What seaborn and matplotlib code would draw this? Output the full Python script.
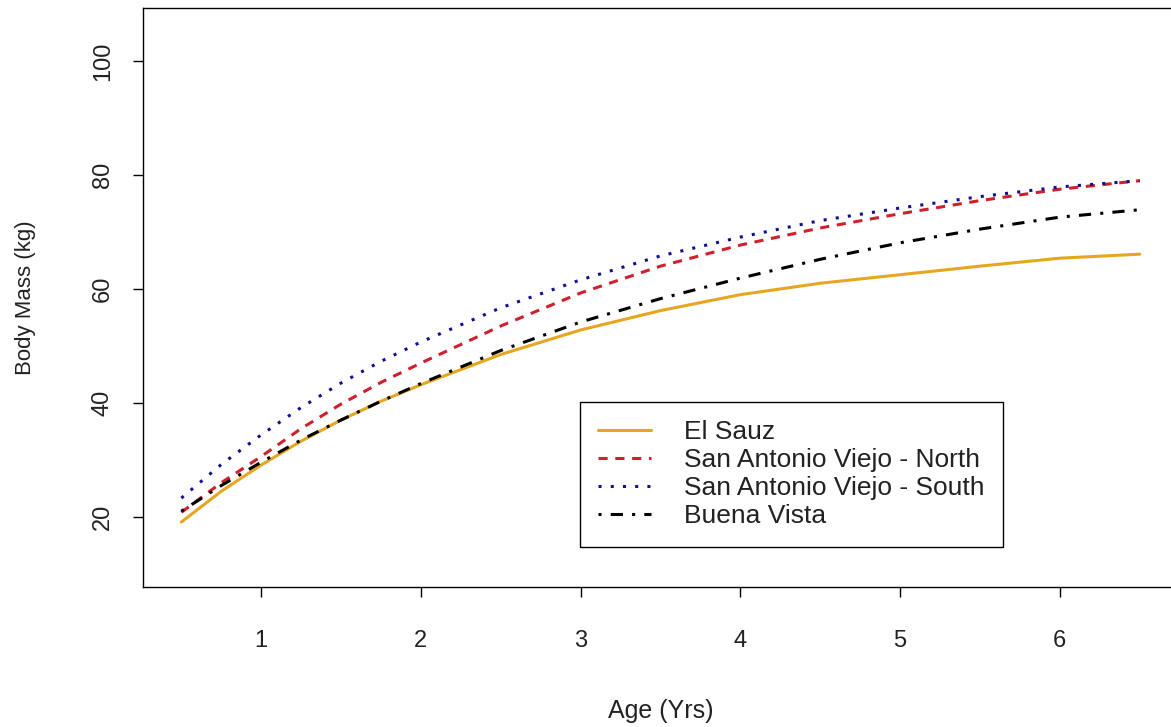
import matplotlib
matplotlib.use("Agg")
import matplotlib.pyplot as plt
import pandas as pd
import seaborn as sns


# Data

ages = [0.5, 0.75, 1, 1.25, 1.5, 1.75, 2, 2.5, 3, 3.5, 4, 4.5, 5, 5.5, 6, 6.5]
el_sauz = [19.1, 24.5, 29.1, 33.3, 37.0, 40.3, 43.2, 48.5, 52.8, 56.2, 59.0, 61.0, 62.5, 64.0, 65.4, 66.1]
sav_north = [20.8, 26.0, 30.6, 35.5, 39.8, 43.6, 47.0, 53.5, 59.3, 64.0, 67.7, 70.7, 73.2, 75.5, 77.5, 79.0]
sav_south = [23.3, 29.2, 34.4, 39.2, 43.5, 47.3, 50.7, 56.7, 61.6, 65.8, 69.1, 72.0, 74.2, 76.2, 77.9, 79.0]
buena_vista = [21.0, 25.5, 29.6, 33.5, 37.0, 40.3, 43.4, 49.2, 54.2, 58.3, 61.9, 65.2, 68.1, 70.5, 72.6, 73.9]

sites = ["El Sauz", "San Antonio Viejo - North", "San Antonio Viejo - South", "Buena Vista"]
series = [el_sauz, sav_north, sav_south, buena_vista]

rows = []
for site, vals in zip(sites, series):
    for a, m in zip(ages, vals):
        rows.append({"Age": a, "Mass": m, "Site": site})
df = pd.DataFrame(rows)

colors = {"El Sauz": "#E6A620",
          "San Antonio Viejo - North": "#D0202E",
          "San Antonio Viejo - South": "#101090",
          "Buena Vista": "#000000"}
dashes = {"El Sauz": "",
          "San Antonio Viejo - North": (3, 2.5),
          "San Antonio Viejo - South": (1, 3),
          "Buena Vista": (1, 3, 4, 3)}

# Plot

sns.set_theme(style="white")
plt.rcParams['font.family'] = ['Liberation Sans', 'DejaVu Sans']

fig = plt.figure(figsize=(11.71, 7.27), dpi=100)
ax = fig.add_axes([143 / 1171, 1 - 587 / 727, (1178 - 143) / 1171, (587 - 8) / 727])

sns.lineplot(data=df, x="Age", y="Mass", hue="Site", style="Site",
             palette=colors, dashes=dashes, hue_order=sites, style_order=sites,
             linewidth=2.2, ax=ax)

ax.set_xlim(0.26, 6.74)
ax.set_ylim(7.7, 109.3)
ax.set_xticks([1, 2, 3, 4, 5, 6])
ax.set_yticks([20, 40, 60, 80, 100])
ax.tick_params(axis="both", direction="out", length=7, width=1, colors="black",
               labelsize=17, bottom=True, left=True)
ax.tick_params(axis="x", pad=24, labelcolor="#222222")
ax.tick_params(axis="y", pad=14, labelcolor="#222222")
for lab in ax.get_yticklabels():
    lab.set_rotation(90)
    lab.set_va("center")
for s in ax.spines.values():
    s.set_color("black")
    s.set_linewidth(1)

ax.set_xlabel("Age (Yrs)", fontsize=18, labelpad=34, color="#222222")
ax.set_ylabel("Body Mass (kg)", fontsize=16, labelpad=40, color="#222222")

leg = ax.legend(loc="upper left", bbox_to_anchor=((580 - 143) / 1035, (587 - 402) / 579),
                fontsize=19, frameon=True, fancybox=False, framealpha=1,
                edgecolor="black", handlelength=2.0, handletextpad=1.25,
                labelspacing=0.15, borderpad=0.7, borderaxespad=0)
leg.get_frame().set_linewidth(1)
for t in leg.get_texts():
    t.set_color("#222222")

fig.savefig("out.png", dpi=100)
